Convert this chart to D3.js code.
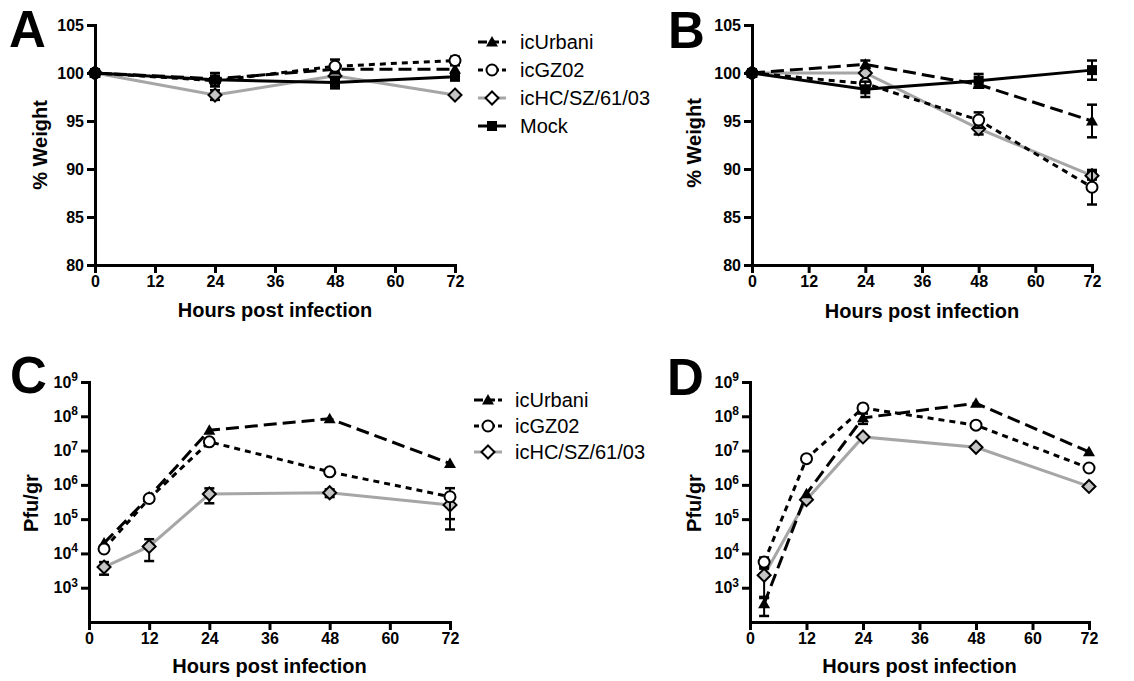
<!DOCTYPE html>
<html>
<head>
<meta charset="utf-8">
<script src="https://cdn.jsdelivr.net/npm/d3@7/dist/d3.min.js"></script>
<style>
  body { margin: 0; background: #fff; }
  svg text { font-family: "Liberation Sans", Arial, sans-serif; }
</style>
</head>
<body>
<svg id="chart" width="1134" height="681"></svg>
<script>
// ---- data ----
var weightHours = [0, 24, 48, 72];
var titerHours = [3, 12, 24, 48, 72];
var virusNames = ["icUrbani", "icGZ02", "icHC/SZ/61/03", "Mock"];
var weightTicks = [80, 85, 90, 95, 100, 105];
var hourTicks = [0, 12, 24, 36, 48, 60, 72];
var titerTicks = [1e3, 1e4, 1e5, 1e6, 1e7, 1e8, 1e9];

// A: % weight, first group
var aUrbani = [100, 99.4, 100.4, 100.4];
var aUrbaniErr = [0, 0.3, 0.4, 0.4];
var aGZ02 = [100, 99.2, 100.7, 101.3];
var aGZ02Err = [0, 0.3, 0.7, 0.4];
var aHC = [100, 97.7, 99.7, 97.7];
var aHCErr = [0, 0.5, 0.3, 0.2];
var aMock = [100, 99.3, 99.0, 99.6];
var aMockErr = [0, 0.7, 0.6, 0.3];

// B: % weight, second group
var bUrbani = [100, 100.9, 98.8, 95.0];
var bUrbaniErr = [0, 0.4, 0.3, 1.7];
var bGZ02 = [100, 98.9, 95.1, 88.1];
var bGZ02Err = [0, 0.3, 0.8, 1.8];
var bHC = [100, 100.0, 94.2, 89.3];
var bHCErr = [0, 0.2, 0.6, 0.4];
var bMock = [100, 98.3, 99.2, 100.3];
var bMockErr = [0, 0.8, 0.7, 1.0];

// C: titre (pfu/gr), first group
var cUrbani = [2.0e4, 4.5e5, 3.9e7, 8.5e7, 4.2e6];
var cUrbaniErr = [0, 0, 0, 0, 0];
var cGZ02 = [1.35e4, 4.0e5, 1.8e7, 2.4e6, 4.5e5];
var cGZ02Err = [0, 0, 0, 0, 3.5e5];
var cHC = [4.0e3, 1.6e4, 5.4e5, 5.9e5, 2.6e5];
var cHCErr = [1.6e3, 1.0e4, 2.5e5, 1.5e5, 2.1e5];

// D: titre (pfu/gr), second group
var dUrbani = [3.4e2, 5.5e5, 9.0e7, 2.4e8, 9.2e6];
var dUrbaniErr = [2.0e2, 0, 3.0e7, 0, 0];
var dGZ02 = [5.6e3, 5.8e6, 1.75e8, 5.5e7, 3.1e6];
var dGZ02Err = [2.0e3, 1.0e6, 0, 8.0e6, 0];
var dHC = [2.3e3, 3.7e5, 2.5e7, 1.25e7, 9.0e5];
var dHCErr = [1.8e3, 0, 0, 0, 0];

// ---- styles ----
var styles = {
  "icUrbani":      { color: "#000", dash: "13,6", marker: "triangle" },
  "icGZ02":        { color: "#000", dash: "6,5",  marker: "circle" },
  "icHC/SZ/61/03": { color: "#a6a6a6", dash: null, marker: "diamond" },
  "Mock":          { color: "#000", dash: null, marker: "square" }
};

var svg = d3.select("#chart");

function drawMarker(g, kind, cx, cy, legend) {
  if (kind == "triangle") {
    g.append("path").attr("d", "M0,-6L6,4.5L-6,4.5Z")
      .attr("transform", "translate(" + cx + "," + cy + ")")
      .attr("fill", "#000");
  } else if (kind == "circle") {
    g.append("circle").attr("cx", cx).attr("cy", cy).attr("r", 5.5)
      .attr("fill", "#fff").attr("stroke", "#000").attr("stroke-width", 2);
  } else if (kind == "diamond") {
    g.append("path").attr("d", "M0,-6.5L6.5,0L0,6.5L-6.5,0Z")
      .attr("transform", "translate(" + cx + "," + cy + ")")
      .attr("fill", legend ? "#fff" : "#c4c4c4").attr("stroke", "#000").attr("stroke-width", 2);
  } else {
    g.append("rect").attr("x", cx - 5).attr("y", cy - 5).attr("width", 10).attr("height", 10)
      .attr("fill", "#000");
  }
}

function drawPanel(p) {
  var x = d3.scaleLinear().domain([0, 72]).range([p.left, p.right]);
  var y = p.log
    ? d3.scaleLog().domain([1e2, 1e9]).range([p.bottom, p.top])
    : d3.scaleLinear().domain([80, 105]).range([p.bottom, p.top]);

  var g = svg.append("g");

  // axes
  var xa = g.append("g").attr("transform", "translate(0," + p.bottom + ")")
    .call(d3.axisBottom(x).tickValues(hourTicks).tickSize(8).tickSizeOuter(0).tickPadding(3));
  var ya = g.append("g").attr("transform", "translate(" + p.left + ",0)")
    .call(d3.axisLeft(y).tickValues(p.log ? titerTicks : weightTicks).tickSize(8).tickSizeOuter(0).tickPadding(3)
      .tickFormat(p.log ? function() { return ""; } : d3.format("d")));

  [xa, ya].forEach(function(a) {
    a.select(".domain").attr("stroke-width", 3).attr("stroke-linecap", "square");
    a.selectAll(".tick line").attr("stroke-width", 3);
    a.selectAll(".tick text").attr("font-size", 16).attr("font-weight", "bold").attr("fill", "#000");
  });

  if (p.log) {
    ya.selectAll(".tick text").each(function(d) {
      var t = d3.select(this);
      t.text("10");
      t.append("tspan").attr("dy", "-0.55em").attr("font-size", 12)
        .text(Math.round(Math.log10(d)));
    });
  }

  // labels
  g.append("text").attr("x", (p.left + p.right) / 2).attr("y", p.titleY)
    .attr("text-anchor", "middle").attr("font-size", 20).attr("font-weight", "bold")
    .text("Hours post infection");
  g.append("text")
    .attr("transform", "translate(" + p.yLabelX + "," + p.yLabelY + ") rotate(-90)")
    .attr("text-anchor", "middle").attr("font-size", 20).attr("font-weight", "bold")
    .text(p.yLabel);
  g.append("text").attr("x", p.letterX).attr("y", p.letterY)
    .attr("font-size", 51).attr("font-weight", "bold").text(p.letter);

  // series
  var line = d3.line()
    .x(function(d) { return x(d.h); })
    .y(function(d) { return y(d.v); });

  p.series.forEach(function(s) {
    var st = styles[s.name];
    var pts = p.hours.map(function(h, i) { return { h: h, v: s.values[i], e: s.errs[i] }; });

    g.append("path").datum(pts)
      .attr("fill", "none").attr("stroke", st.color).attr("stroke-width", 3)
      .attr("stroke-dasharray", st.dash).attr("d", line);

    pts.forEach(function(d) {
      if (!d.e) return;
      var lo = Math.max(d.v - d.e, p.log ? 150 : 80);
      var y1 = y(d.v + d.e), y0 = y(lo), cx = x(d.h);
      g.append("line").attr("x1", cx).attr("x2", cx).attr("y1", y1).attr("y2", y0)
        .attr("stroke", "#000").attr("stroke-width", 2);
      [y1, y0].forEach(function(yy) {
        g.append("line").attr("x1", cx - 5).attr("x2", cx + 5).attr("y1", yy).attr("y2", yy)
          .attr("stroke", "#000").attr("stroke-width", 2.5);
      });
    });

    pts.forEach(function(d) { drawMarker(g, st.marker, x(d.h), y(d.v), false); });
  });
}

function drawLegend(names, lx, ly, gap, textX) {
  var g = svg.append("g");
  names.forEach(function(n, i) {
    var st = styles[n];
    var cy = ly + i * gap;
    g.append("line").attr("x1", lx).attr("x2", lx + 28).attr("y1", cy).attr("y2", cy)
      .attr("stroke", st.color).attr("stroke-width", 3)
      .attr("stroke-dasharray", st.dash ? (n == "icGZ02" ? "5,3" : "9,3") : null);
    drawMarker(g, st.marker, lx + 14, cy, true);
    g.append("text").attr("x", textX).attr("y", cy + 7)
      .attr("font-size", 20).attr("fill", "#000").text(n);
  });
}

drawPanel({
  letter: "A", letterX: 9, letterY: 47, left: 95, right: 455, top: 25, bottom: 265,
  log: false, hours: weightHours, yLabel: "% Weight", yLabelX: 47, yLabelY: 145, titleY: 317,
  series: [
    { name: "icHC/SZ/61/03", values: aHC, errs: aHCErr },
    { name: "icUrbani", values: aUrbani, errs: aUrbaniErr },
    { name: "icGZ02", values: aGZ02, errs: aGZ02Err },
    { name: "Mock", values: aMock, errs: aMockErr }
  ]
});

drawPanel({
  letter: "B", letterX: 668, letterY: 48, left: 752, right: 1092, top: 25, bottom: 265,
  log: false, hours: weightHours, yLabel: "% Weight", yLabelX: 701, yLabelY: 143, titleY: 318,
  series: [
    { name: "icHC/SZ/61/03", values: bHC, errs: bHCErr },
    { name: "icUrbani", values: bUrbani, errs: bUrbaniErr },
    { name: "icGZ02", values: bGZ02, errs: bGZ02Err },
    { name: "Mock", values: bMock, errs: bMockErr }
  ]
});

drawPanel({
  letter: "C", letterX: 10, letterY: 393, left: 89, right: 450, top: 382, bottom: 622,
  log: true, hours: titerHours, yLabel: "Pfu/gr", yLabelX: 38, yLabelY: 503, titleY: 673,
  series: [
    { name: "icHC/SZ/61/03", values: cHC, errs: cHCErr },
    { name: "icUrbani", values: cUrbani, errs: cUrbaniErr },
    { name: "icGZ02", values: cGZ02, errs: cGZ02Err }
  ]
});

drawPanel({
  letter: "D", letterX: 667, letterY: 395, left: 750, right: 1089, top: 382, bottom: 622,
  log: true, hours: titerHours, yLabel: "Pfu/gr", yLabelX: 701, yLabelY: 503, titleY: 673,
  series: [
    { name: "icHC/SZ/61/03", values: dHC, errs: dHCErr },
    { name: "icUrbani", values: dUrbani, errs: dUrbaniErr },
    { name: "icGZ02", values: dGZ02, errs: dGZ02Err }
  ]
});

drawLegend(virusNames, 478, 42, 28, 520);
drawLegend(virusNames.slice(0, 3), 474, 400, 26, 515);
</script>
</body>
</html>
